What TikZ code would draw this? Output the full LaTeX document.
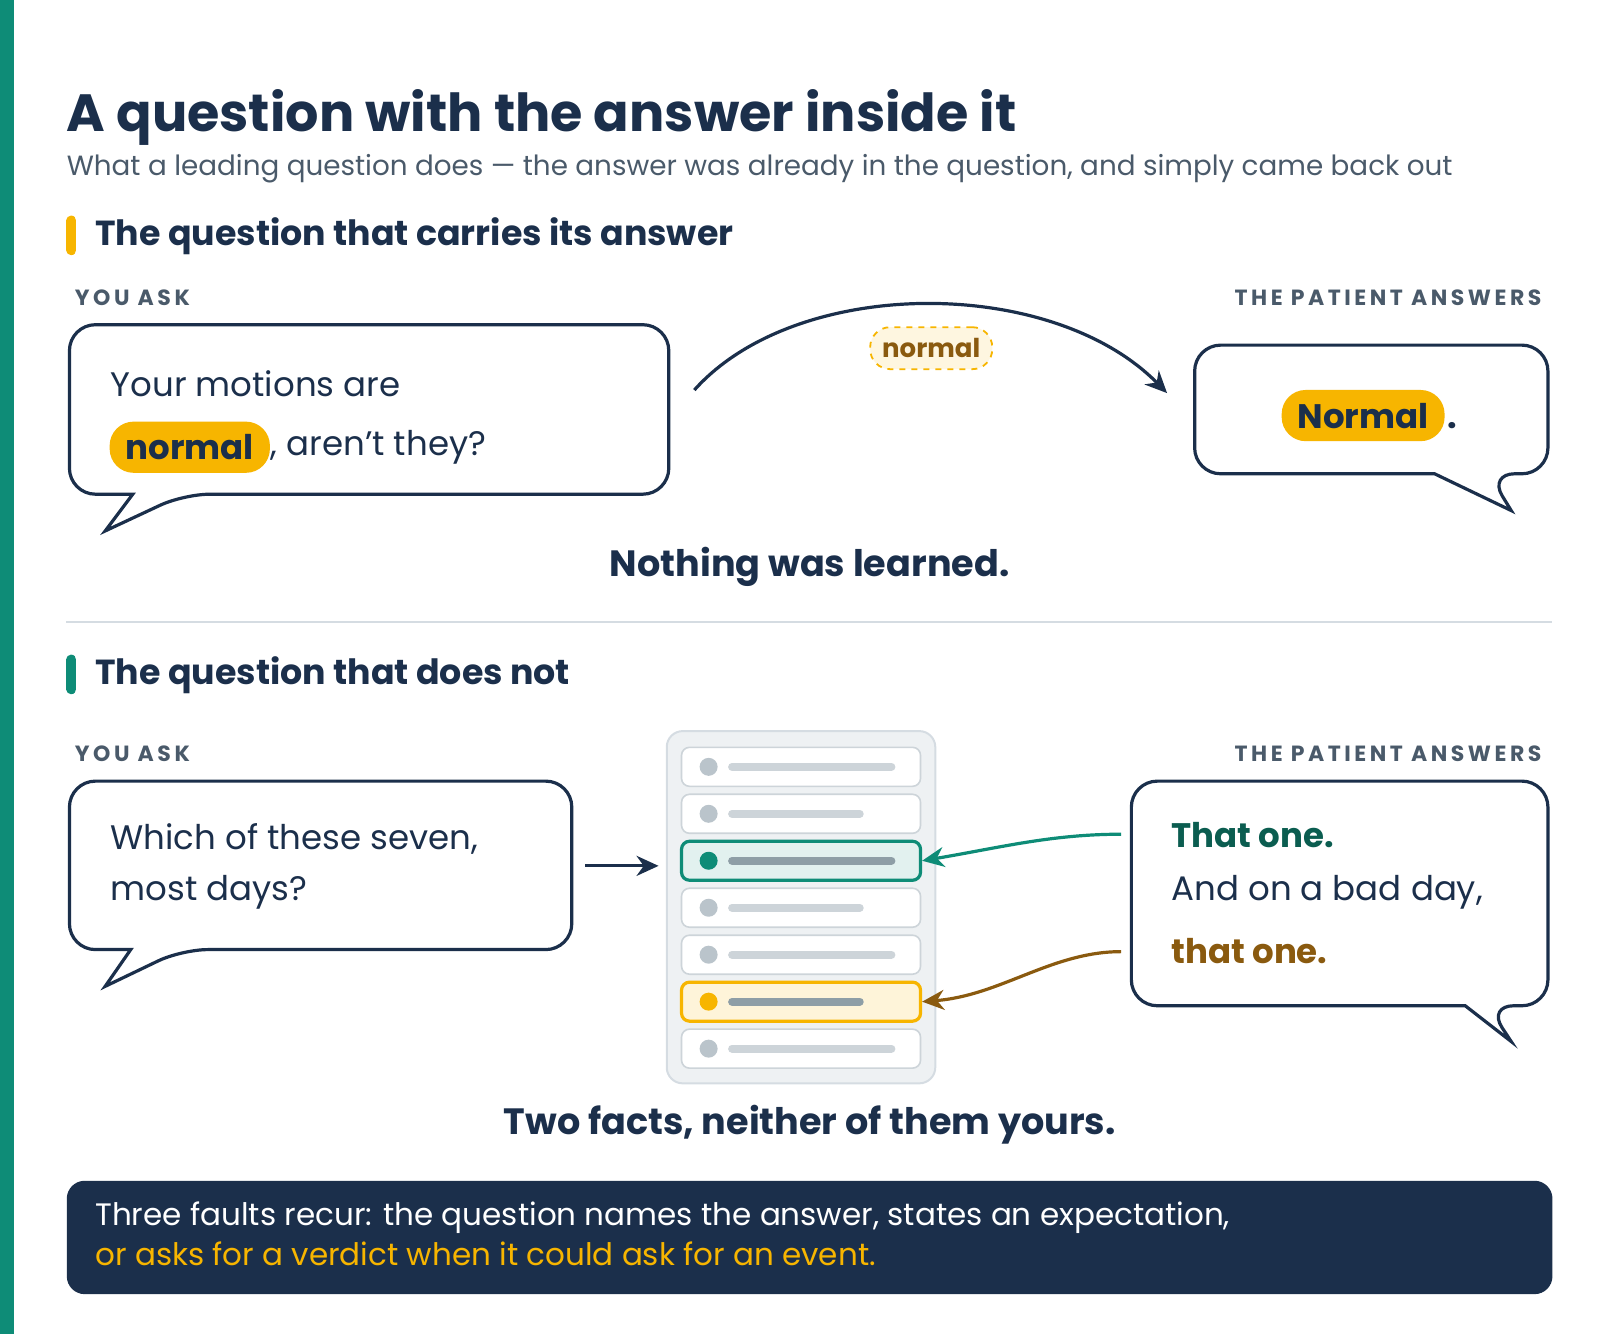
\documentclass[tikz,border=0pt]{standalone}
\usepackage{fontspec}
\setmainfont{Poppins}
\usetikzlibrary{arrows.meta}
\usetikzlibrary{positioning}
\definecolor{navy}{HTML}{1B2F4B}
\definecolor{teal}{HTML}{0E8C77}
\definecolor{darkteal}{HTML}{0B5D50}
\definecolor{gold}{HTML}{F7B500}
\definecolor{brown}{HTML}{8A5A0F}
\definecolor{label}{HTML}{4A5A6A}
\definecolor{rule}{HTML}{D5DCE2}
\definecolor{dotgray}{HTML}{BAC4CB}
\definecolor{linegray}{HTML}{CDD4D9}
\definecolor{darkline}{HTML}{8E9EA6}
\tikzset{
  bubble/.style={draw=navy, line width=1.6pt, fill=white, rounded corners=13pt},
  said/.style={anchor=west, inner sep=0pt, font=\fontsize{17}{20}\selectfont, text=navy},
  who/.style={inner sep=0pt, font=\fontsize{11}{13}\selectfont\bfseries\addfontfeatures{LetterSpace=16}, text=label},
  head/.style={anchor=west, inner sep=0pt, font=\fontsize{17.4}{20}\selectfont\bfseries, text=navy},
  verdict/.style={inner sep=0pt, font=\fontsize{18.3}{21}\selectfont\bfseries, text=navy},
  pill/.style={fill=gold, rounded corners=12pt, minimum height=25.6pt, inner xsep=8pt, font=\fontsize{17}{20}\selectfont\bfseries, text=navy},
  row/.style={draw=linegray, line width=0.8pt, fill=white, rounded corners=4pt, minimum width=119.5pt, minimum height=19.5pt},
  dot/.style={circle, fill=dotgray, inner sep=0pt, minimum size=9pt},
  bar/.style={line width=4pt, line cap=round, draw=linegray},
  tip/.style={line width=1.6pt, -{Stealth[length=11pt, width=10pt]}},
}
\begin{document}
\begin{tikzpicture}[x=0.5105pt, y=-0.5105pt]
	\useasboundingbox (0,0) rectangle (1567,1306);
	\fill[teal] (0,0) rectangle (14,1306);

	% title
	\node[anchor=base west, inner sep=0pt, font=\fontsize{26.2}{30}\selectfont\bfseries, text=navy] (title) at (65,129) {A question with the answer inside it};
	\node[anchor=base west, inner sep=0pt, font=\fontsize{13.9}{16}\selectfont, text=label] (sub) at (65,172) {What a leading question does — the answer was already in the question, and simply came back out};

	% first section
	\draw[line width=5pt, line cap=round, gold] (70,216) -- (70,245);
	\node[head] (head1) at (93,231) {The question that carries its answer};
	\node[who, anchor=west] (ask1) at (73,292) {YOU ASK};
	\node[who, anchor=east] (ans1) at (1510,292) {THE PATIENT ANSWERS};

	\draw[bubble] (68,318) -- (655,318) -- (655,484) -- (180,484) [sharp corners] -- (103,520) -- (130,484) [rounded corners=13pt] -- (68,484) -- cycle;
	\node[said] (ask1a) at (108,376) {Your motions are};
	\node[pill, anchor=west] (norm1) at (107,438) {normal};
	\node[said, right=0pt of norm1] (ask1b) {, aren’t they?};

	\draw[bubble] (1170,338) -- (1516,338) -- (1516,464) -- (1458,464) [sharp corners] -- (1480,500) -- (1405,464) [rounded corners=13pt] -- (1170,464) -- cycle;
	\node[pill] (norm2) at (1335,407) {Normal};
	\node[said, anchor=base west, font=\fontsize{17}{20}\selectfont\bfseries] (stop) at ([xshift=1pt]norm2.base east) {.};

	\coordinate (out1) at (680,382);
	\coordinate (in1) at (1143,385);
	\draw[navy, tip] (out1) .. controls (780,270) and (1030,270) .. (in1);
	\node[draw=gold, dashed, line width=0.9pt, fill=gold!12, rounded corners=10pt, minimum height=21pt, inner xsep=6pt, font=\fontsize{13}{15}\selectfont\bfseries, text=brown] (carried) at (912,341) {normal};

	\node[verdict] (learned) at (793,555) {Nothing was learned.};
	\draw[rule, line width=1pt] (65,609) -- (1520,609);

	% second section
	\draw[line width=5pt, line cap=round, teal] (70,646) -- (70,675);
	\node[head] (head2) at (93,661) {The question that does not};
	\node[who, anchor=west] (ask2) at (73,738) {YOU ASK};
	\node[who, anchor=east] (ans2) at (1510,738) {THE PATIENT ANSWERS};

	\draw[bubble] (68,765) -- (560,765) -- (560,930) -- (178,930) [sharp corners] -- (103,966) -- (128,930) [rounded corners=13pt] -- (68,930) -- cycle;
	\node[said] (ask2a) at (108,822) {Which of these seven,};
	\node[said] (ask2b) at (108,874) {most days?};

	\draw[fill=rule!40, draw=rule, line width=1pt, rounded corners=8pt] (653,716) rectangle (916,1061);
	\foreach \i/\y/\len in {1/751/873, 2/797/842, 3/843/873, 4/889/842, 5/935/873, 6/981/842, 7/1027/873} {
		\node[row] (row\i) at (784.5,\y) {};
		\node[dot] (dot\i) at (694,\y) {};
		\draw[bar] (717,\y) -- (\len,\y);
	}
	\node[row, draw=teal, fill=teal!12, line width=1.6pt] (pick1) at (row3) {};
	\node[dot, fill=teal] at (694,843) {};
	\draw[bar, draw=darkline] (717,843) -- (873,843);
	\node[row, draw=gold, fill=gold!15, line width=1.6pt] (pick2) at (row6) {};
	\node[dot, fill=gold] at (694,981) {};
	\draw[bar, draw=darkline] (717,981) -- (842,981);

	\coordinate (out2) at (573,848);
	\coordinate (in2) at (645,848);
	\draw[navy, tip] (out2) -- (in2);

	\draw[bubble] (1108,765) -- (1516,765) -- (1516,985) -- (1457,985) [sharp corners] -- (1480,1020) -- (1435,985) [rounded corners=13pt] -- (1108,985) -- cycle;
	\node[said, font=\fontsize{17}{20}\selectfont\bfseries, text=darkteal] (one1) at (1147,818) {That one.};
	\node[said] (bad) at (1147,874) {And on a bad day,};
	\node[said, font=\fontsize{17}{20}\selectfont\bfseries, text=brown] (one2) at (1147,931) {that one.};

	\coordinate (from1) at (1098,817);
	\coordinate (from2) at (1098,932);
	\draw[teal, tip] (from1) .. controls (1030,817) and (980,830) .. (pick1.east);
	\draw[brown, tip] (from2) .. controls (1030,932) and (980,975) .. (pick2.east);

	\node[verdict] (facts) at (793,1101) {Two facts, neither of them yours.};

	\node[fill=navy, rounded corners=9pt, minimum width=742.8pt, minimum height=56.7pt, anchor=north west] (faults) at (65,1156) {};
	\node[anchor=base west, inner sep=0pt, font=\fontsize{15.5}{18}\selectfont, text=white] (f1) at (93,1200) {Three faults recur: the question names the answer, states an expectation,};
	\node[anchor=base west, inner sep=0pt, font=\fontsize{15.5}{18}\selectfont, text=gold] (f2) at (93,1239) {or asks for a verdict when it could ask for an event.};
\end{tikzpicture}
\end{document}
